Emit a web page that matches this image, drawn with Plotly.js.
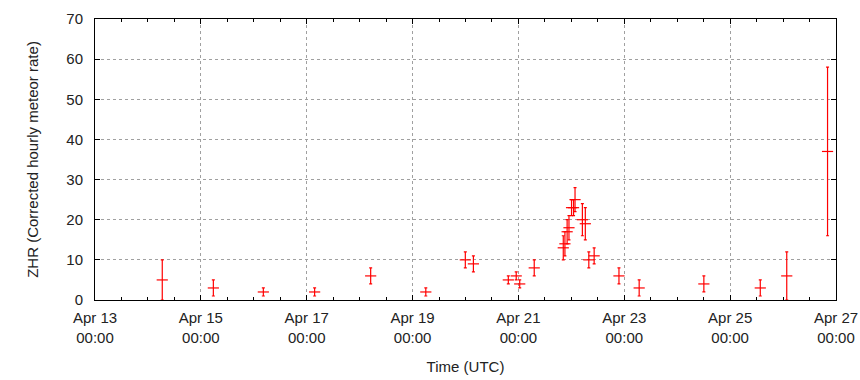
<!DOCTYPE html>
<html>
<head>
<meta charset="utf-8">
<script src="https://cdn.plot.ly/plotly-3.0.1.min.js"></script>
<style>html,body{margin:0;padding:0;background:#fff;}#chart{width:860px;height:380px;}</style>
</head>
<body>
<div id="chart"></div>
<script>
// Observation times (UTC)
const times = [
  "2020-04-14 06:30", "2020-04-15 05:40", "2020-04-16 04:20", "2020-04-17 03:35",
  "2020-04-18 05:00", "2020-04-19 06:00", "2020-04-19 23:55", "2020-04-20 03:35",
  "2020-04-20 19:25", "2020-04-20 23:00", "2020-04-21 00:35", "2020-04-21 07:10",
  "2020-04-21 20:20", "2020-04-21 21:05", "2020-04-21 22:05", "2020-04-21 22:55",
  "2020-04-22 00:05", "2020-04-22 01:00", "2020-04-22 01:40", "2020-04-22 05:00",
  "2020-04-22 06:20", "2020-04-22 07:55", "2020-04-22 10:20", "2020-04-22 21:35",
  "2020-04-23 06:45", "2020-04-24 12:05", "2020-04-25 13:40", "2020-04-26 01:40",
  "2020-04-26 20:10"
];
// ZHR values
const zhr = [5, 3, 2, 2, 6, 2, 10, 9, 5, 6, 4, 8, 13, 14, 17, 18, 23, 23, 25, 20, 19, 10, 11, 6, 3, 4, 3, 6, 37];
// ZHR uncertainty (+/-)
const zhrErr = [5, 2, 1, 1, 2, 1, 2, 2, 1, 1, 1, 2, 3, 3, 3, 3, 2, 2, 3, 4, 4, 2, 2, 2, 2, 2, 2, 6, 21];
// Axis tick labels
const xTickVals = ["2020-04-13", "2020-04-15", "2020-04-17", "2020-04-19", "2020-04-21", "2020-04-23", "2020-04-25", "2020-04-27"];
const xTickText = ["Apr 13<br>00:00", "Apr 15<br>00:00", "Apr 17<br>00:00", "Apr 19<br>00:00", "Apr 21<br>00:00", "Apr 23<br>00:00", "Apr 25<br>00:00", "Apr 27<br>00:00"];
const yTickVals = [0, 10, 20, 30, 40, 50, 60, 70];

const trace = {
  type: "scatter",
  mode: "markers",
  x: times,
  y: zhr,
  marker: {symbol: "line-ew", size: 8, color: "#ff0000", line: {color: "#ff0000", width: 1.2}},
  error_y: {type: "data", array: zhrErr, visible: true, color: "#ff0000", thickness: 1.2, width: 1.5},
  hoverinfo: "x+y"
};

const font = {family: "Liberation Sans, Arial, sans-serif", size: 15, color: "#222"};

const layout = {
  width: 860, height: 380,
  margin: {l: 95, r: 24, t: 19, b: 80},
  paper_bgcolor: "#fff", plot_bgcolor: "#fff",
  showlegend: false,
  font: font,
  xaxis: {
    type: "date",
    range: ["2020-04-13", "2020-04-27"],
    tickmode: "array", tickvals: xTickVals, ticktext: xTickText,
    ticks: "inside", ticklen: 5, tickcolor: "#000", tickwidth: 1,
    minor: {dtick: 12 * 3600 * 1000, ticks: "inside", ticklen: 3, tickcolor: "#000", showgrid: false},
    showline: true, linecolor: "#000", linewidth: 1, mirror: "ticks",
    showgrid: true, gridcolor: "#a0a0a0", griddash: "3px,3px", gridwidth: 1,
    zeroline: false,
    ticklabelstandoff: 4,
    tickfont: font,
    title: {text: "Time (UTC)", font: font, standoff: 16}
  },
  yaxis: {
    range: [0, 70],
    tickmode: "array", tickvals: yTickVals,
    ticks: "inside", ticklen: 5, tickcolor: "#000", tickwidth: 1,
    showline: true, linecolor: "#000", linewidth: 1, mirror: "ticks",
    showgrid: true, gridcolor: "#a0a0a0", griddash: "3px,3px", gridwidth: 1,
    zeroline: false,
    ticklabelstandoff: 8,
    tickfont: font,
    title: {text: "ZHR (Corrected hourly meteor rate)", font: font, standoff: 24}
  }
};

Plotly.newPlot("chart", [trace], layout, {displayModeBar: false, staticPlot: true});
</script>
</body>
</html>
